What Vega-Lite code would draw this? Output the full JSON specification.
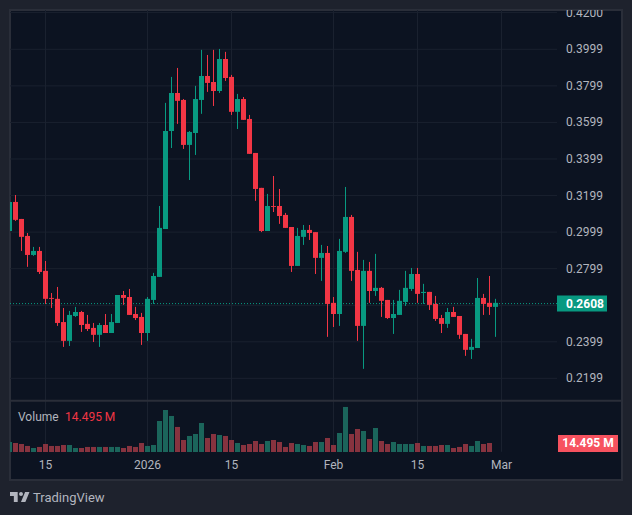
{
  "$schema": "https://vega.github.io/schema/vega-lite/v6.json",
  "description": "Daily candlestick chart with volume pane, dark TradingView style.",
  "width": 612,
  "height": 470,
  "autosize": {"type": "none"},
  "padding": {"left": 10, "top": 10, "right": 10, "bottom": 35},
  "background": "#1e222d",
  "view": {"fill": "#0c1321", "stroke": "#2a2e39", "strokeWidth": 2},
  "config": {
    "axis": {"disable": true},
    "text": {"font": "Roboto", "fontSize": 12, "color": "#b2b5be", "baseline": "middle"}
  },
  "datasets": {
    "candles": [
      {"date": "2025-12-09", "open": 0.3005, "high": 0.3164, "low": 0.3005, "close": 0.3164, "volume": 16.1, "dir": "up"},
      {"date": "2025-12-10", "open": 0.3164, "high": 0.3202, "low": 0.306, "close": 0.3066, "volume": 14.5, "dir": "down"},
      {"date": "2025-12-11", "open": 0.3071, "high": 0.3071, "low": 0.2896, "close": 0.2973, "volume": 12.9, "dir": "down"},
      {"date": "2025-12-12", "open": 0.2978, "high": 0.2994, "low": 0.2809, "close": 0.2874, "volume": 9.7, "dir": "down"},
      {"date": "2025-12-13", "open": 0.2874, "high": 0.2918, "low": 0.2869, "close": 0.2896, "volume": 6.4, "dir": "up"},
      {"date": "2025-12-14", "open": 0.2896, "high": 0.2918, "low": 0.277, "close": 0.2781, "volume": 8.1, "dir": "down"},
      {"date": "2025-12-15", "open": 0.2787, "high": 0.2841, "low": 0.2606, "close": 0.2634, "volume": 12.9, "dir": "down"},
      {"date": "2025-12-16", "open": 0.2639, "high": 0.2666, "low": 0.2584, "close": 0.2634, "volume": 9.7, "dir": "down"},
      {"date": "2025-12-17", "open": 0.2634, "high": 0.2699, "low": 0.2486, "close": 0.2502, "volume": 9.7, "dir": "down"},
      {"date": "2025-12-18", "open": 0.2507, "high": 0.2584, "low": 0.2371, "close": 0.2404, "volume": 11.3, "dir": "down"},
      {"date": "2025-12-19", "open": 0.2404, "high": 0.2568, "low": 0.2376, "close": 0.2546, "volume": 11.3, "dir": "up"},
      {"date": "2025-12-20", "open": 0.254, "high": 0.259, "low": 0.2535, "close": 0.2562, "volume": 6.4, "dir": "up"},
      {"date": "2025-12-21", "open": 0.2562, "high": 0.2568, "low": 0.2453, "close": 0.2491, "volume": 6.4, "dir": "down"},
      {"date": "2025-12-22", "open": 0.2497, "high": 0.2546, "low": 0.2458, "close": 0.2469, "volume": 8.1, "dir": "down"},
      {"date": "2025-12-23", "open": 0.2475, "high": 0.2502, "low": 0.2398, "close": 0.2437, "volume": 8.1, "dir": "down"},
      {"date": "2025-12-24", "open": 0.2437, "high": 0.2502, "low": 0.2371, "close": 0.2491, "volume": 8.1, "dir": "up"},
      {"date": "2025-12-25", "open": 0.2491, "high": 0.2551, "low": 0.2447, "close": 0.2447, "volume": 8.1, "dir": "down"},
      {"date": "2025-12-26", "open": 0.2447, "high": 0.2551, "low": 0.2447, "close": 0.2507, "volume": 8.1, "dir": "up"},
      {"date": "2025-12-27", "open": 0.2502, "high": 0.2655, "low": 0.2502, "close": 0.2655, "volume": 8.1, "dir": "up"},
      {"date": "2025-12-28", "open": 0.2655, "high": 0.2677, "low": 0.2601, "close": 0.2639, "volume": 6.4, "dir": "down"},
      {"date": "2025-12-29", "open": 0.2644, "high": 0.2688, "low": 0.2546, "close": 0.2546, "volume": 9.7, "dir": "down"},
      {"date": "2025-12-30", "open": 0.2551, "high": 0.259, "low": 0.2518, "close": 0.2529, "volume": 8.1, "dir": "down"},
      {"date": "2025-12-31", "open": 0.2535, "high": 0.2557, "low": 0.2382, "close": 0.2447, "volume": 14.5, "dir": "down"},
      {"date": "2026-01-01", "open": 0.2447, "high": 0.2644, "low": 0.2404, "close": 0.2634, "volume": 9.7, "dir": "up"},
      {"date": "2026-01-02", "open": 0.2628, "high": 0.2776, "low": 0.2606, "close": 0.2759, "volume": 11.3, "dir": "up"},
      {"date": "2026-01-03", "open": 0.2754, "high": 0.3142, "low": 0.2754, "close": 0.3022, "volume": 49.9, "dir": "up"},
      {"date": "2026-01-04", "open": 0.3016, "high": 0.3706, "low": 0.3016, "close": 0.3552, "volume": 67.6, "dir": "up"},
      {"date": "2026-01-05", "open": 0.3552, "high": 0.3848, "low": 0.3459, "close": 0.376, "volume": 58, "dir": "up"},
      {"date": "2026-01-06", "open": 0.376, "high": 0.3897, "low": 0.3591, "close": 0.3717, "volume": 40.3, "dir": "down"},
      {"date": "2026-01-07", "open": 0.3722, "high": 0.3727, "low": 0.3454, "close": 0.3476, "volume": 19.3, "dir": "down"},
      {"date": "2026-01-08", "open": 0.3476, "high": 0.3552, "low": 0.3284, "close": 0.3547, "volume": 25.8, "dir": "up"},
      {"date": "2026-01-09", "open": 0.3541, "high": 0.3799, "low": 0.3421, "close": 0.3727, "volume": 29, "dir": "up"},
      {"date": "2026-01-10", "open": 0.3722, "high": 0.3996, "low": 0.3646, "close": 0.3853, "volume": 46.7, "dir": "up"},
      {"date": "2026-01-11", "open": 0.3853, "high": 0.3968, "low": 0.3766, "close": 0.3815, "volume": 22.5, "dir": "down"},
      {"date": "2026-01-12", "open": 0.382, "high": 0.3996, "low": 0.3689, "close": 0.3771, "volume": 29, "dir": "down"},
      {"date": "2026-01-13", "open": 0.3771, "high": 0.4001, "low": 0.376, "close": 0.3946, "volume": 27.4, "dir": "up"},
      {"date": "2026-01-14", "open": 0.3946, "high": 0.3985, "low": 0.3826, "close": 0.3842, "volume": 25.8, "dir": "down"},
      {"date": "2026-01-15", "open": 0.3848, "high": 0.3859, "low": 0.364, "close": 0.3657, "volume": 19.3, "dir": "down"},
      {"date": "2026-01-16", "open": 0.3657, "high": 0.3755, "low": 0.3563, "close": 0.3727, "volume": 14.5, "dir": "up"},
      {"date": "2026-01-17", "open": 0.3727, "high": 0.3738, "low": 0.3613, "close": 0.3613, "volume": 11.3, "dir": "down"},
      {"date": "2026-01-18", "open": 0.3618, "high": 0.364, "low": 0.3427, "close": 0.3427, "volume": 12.9, "dir": "down"},
      {"date": "2026-01-19", "open": 0.3432, "high": 0.3432, "low": 0.317, "close": 0.3235, "volume": 17.7, "dir": "down"},
      {"date": "2026-01-20", "open": 0.3241, "high": 0.3241, "low": 0.2999, "close": 0.3005, "volume": 12.9, "dir": "down"},
      {"date": "2026-01-21", "open": 0.3005, "high": 0.3208, "low": 0.3005, "close": 0.3142, "volume": 17.7, "dir": "up"},
      {"date": "2026-01-22", "open": 0.3142, "high": 0.3306, "low": 0.3109, "close": 0.3137, "volume": 19.3, "dir": "down"},
      {"date": "2026-01-23", "open": 0.3142, "high": 0.3235, "low": 0.3044, "close": 0.3087, "volume": 16.1, "dir": "down"},
      {"date": "2026-01-24", "open": 0.3093, "high": 0.3104, "low": 0.3022, "close": 0.3022, "volume": 8.1, "dir": "down"},
      {"date": "2026-01-25", "open": 0.3027, "high": 0.3027, "low": 0.2781, "close": 0.2814, "volume": 14.5, "dir": "down"},
      {"date": "2026-01-26", "open": 0.2814, "high": 0.3022, "low": 0.2814, "close": 0.2978, "volume": 12.9, "dir": "up"},
      {"date": "2026-01-27", "open": 0.2973, "high": 0.3038, "low": 0.2929, "close": 0.3011, "volume": 11.3, "dir": "up"},
      {"date": "2026-01-28", "open": 0.3011, "high": 0.3038, "low": 0.2956, "close": 0.2994, "volume": 9.7, "dir": "down"},
      {"date": "2026-01-29", "open": 0.2999, "high": 0.2999, "low": 0.277, "close": 0.2858, "volume": 16.1, "dir": "down"},
      {"date": "2026-01-30", "open": 0.2858, "high": 0.2929, "low": 0.2732, "close": 0.2885, "volume": 16.1, "dir": "up"},
      {"date": "2026-01-31", "open": 0.2885, "high": 0.2923, "low": 0.2426, "close": 0.2606, "volume": 22.5, "dir": "down"},
      {"date": "2026-02-01", "open": 0.2612, "high": 0.2644, "low": 0.248, "close": 0.2551, "volume": 11.3, "dir": "down"},
      {"date": "2026-02-02", "open": 0.2551, "high": 0.2962, "low": 0.2486, "close": 0.2896, "volume": 30.6, "dir": "up"},
      {"date": "2026-02-03", "open": 0.2891, "high": 0.3246, "low": 0.2885, "close": 0.3082, "volume": 72.5, "dir": "up"},
      {"date": "2026-02-04", "open": 0.3082, "high": 0.3093, "low": 0.2732, "close": 0.2787, "volume": 29, "dir": "down"},
      {"date": "2026-02-05", "open": 0.2792, "high": 0.2891, "low": 0.2404, "close": 0.2486, "volume": 37, "dir": "down"},
      {"date": "2026-02-06", "open": 0.2486, "high": 0.2847, "low": 0.2251, "close": 0.2787, "volume": 33.8, "dir": "up"},
      {"date": "2026-02-07", "open": 0.2787, "high": 0.2836, "low": 0.2612, "close": 0.2677, "volume": 20.9, "dir": "down"},
      {"date": "2026-02-08", "open": 0.2677, "high": 0.288, "low": 0.265, "close": 0.2694, "volume": 38.6, "dir": "up"},
      {"date": "2026-02-09", "open": 0.2694, "high": 0.2699, "low": 0.2535, "close": 0.2623, "volume": 17.7, "dir": "down"},
      {"date": "2026-02-10", "open": 0.2628, "high": 0.2628, "low": 0.2524, "close": 0.2529, "volume": 12.9, "dir": "down"},
      {"date": "2026-02-11", "open": 0.2529, "high": 0.2628, "low": 0.2442, "close": 0.2551, "volume": 16.1, "dir": "up"},
      {"date": "2026-02-12", "open": 0.2546, "high": 0.2683, "low": 0.2546, "close": 0.2623, "volume": 12.9, "dir": "up"},
      {"date": "2026-02-13", "open": 0.2617, "high": 0.2787, "low": 0.2595, "close": 0.2694, "volume": 12.9, "dir": "up"},
      {"date": "2026-02-14", "open": 0.2688, "high": 0.2803, "low": 0.2677, "close": 0.277, "volume": 12.9, "dir": "up"},
      {"date": "2026-02-15", "open": 0.277, "high": 0.2803, "low": 0.2612, "close": 0.2661, "volume": 14.5, "dir": "down"},
      {"date": "2026-02-16", "open": 0.2666, "high": 0.2716, "low": 0.2606, "close": 0.2672, "volume": 9.7, "dir": "up"},
      {"date": "2026-02-17", "open": 0.2672, "high": 0.2672, "low": 0.2573, "close": 0.2601, "volume": 9.7, "dir": "down"},
      {"date": "2026-02-18", "open": 0.2606, "high": 0.265, "low": 0.2513, "close": 0.2524, "volume": 9.7, "dir": "down"},
      {"date": "2026-02-19", "open": 0.2529, "high": 0.2546, "low": 0.2447, "close": 0.2497, "volume": 11.3, "dir": "down"},
      {"date": "2026-02-20", "open": 0.2497, "high": 0.2584, "low": 0.2475, "close": 0.2562, "volume": 11.3, "dir": "up"},
      {"date": "2026-02-21", "open": 0.2562, "high": 0.259, "low": 0.2535, "close": 0.2535, "volume": 6.4, "dir": "down"},
      {"date": "2026-02-22", "open": 0.254, "high": 0.254, "low": 0.2415, "close": 0.2437, "volume": 8.1, "dir": "down"},
      {"date": "2026-02-23", "open": 0.2442, "high": 0.2442, "low": 0.2322, "close": 0.2355, "volume": 12.9, "dir": "down"},
      {"date": "2026-02-24", "open": 0.2355, "high": 0.2415, "low": 0.2305, "close": 0.2371, "volume": 9.7, "dir": "up"},
      {"date": "2026-02-25", "open": 0.2365, "high": 0.2748, "low": 0.2365, "close": 0.2639, "volume": 17.7, "dir": "up"},
      {"date": "2026-02-26", "open": 0.2639, "high": 0.2661, "low": 0.2546, "close": 0.2606, "volume": 12.9, "dir": "down"},
      {"date": "2026-02-27", "open": 0.2612, "high": 0.2759, "low": 0.2546, "close": 0.259, "volume": 14.495, "dir": "down"},
      {"date": "2026-02-28", "open": 0.259, "high": 0.2634, "low": 0.2426, "close": 0.2612, "dir": "up"}
    ],
    "priceTicks": [
      {"price": 0.42, "label": "0.4200"},
      {"price": 0.3999, "label": "0.3999"},
      {"price": 0.3799, "label": "0.3799"},
      {"price": 0.3599, "label": "0.3599"},
      {"price": 0.3399, "label": "0.3399"},
      {"price": 0.3199, "label": "0.3199"},
      {"price": 0.2999, "label": "0.2999"},
      {"price": 0.2799, "label": "0.2799"},
      {"price": 0.2399, "label": "0.2399"},
      {"price": 0.2199, "label": "0.2199"}
    ],
    "priceGrid": [
      {"price": 0.42}, {"price": 0.3999}, {"price": 0.3799}, {"price": 0.3599}, {"price": 0.3399}, {"price": 0.3199},
      {"price": 0.2999}, {"price": 0.2799}, {"price": 0.2599}, {"price": 0.2399}, {"price": 0.2199}
    ],
    "timeTicks": [
      {"date": "2025-12-15", "label": "15"},
      {"date": "2026-01-01", "label": "2026"},
      {"date": "2026-01-15", "label": "15"},
      {"date": "2026-02-01", "label": "Feb"},
      {"date": "2026-02-15", "label": "15"},
      {"date": "2026-03-01", "label": "Mar"}
    ],
    "one": [{}]
  },
  "resolve": {"scale": {"y": "independent", "color": "independent"}},
  "layer": [
    {
      "layer": [
        {
          "data": {"name": "priceGrid"},
          "mark": {"type": "rule", "color": "#1a212f", "strokeWidth": 1},
          "encoding": {
            "x": {"datum": {"year": 2025, "month": 12, "date": 9, "hours": 2, "utc": true}, "type": "temporal", "scale": {"type": "utc", "nice": false, "padding": 0, "domain": [{"year": 2025, "month": 12, "date": 9, "hours": 2, "utc": true}, {"year": 2026, "month": 3, "date": 21, "hours": 2, "utc": true}]}},
            "x2": {"datum": {"year": 2026, "month": 3, "date": 10, "hours": 6, "utc": true}},
            "y": {"field": "price", "type": "quantitative", "scale": {"nice": false, "zero": false, "domain": [0.1643, 0.4214]}}
          }
        },
        {
          "data": {"name": "timeTicks"},
          "mark": {"type": "rule", "color": "#1a212f", "strokeWidth": 1},
          "encoding": {
            "x": {"field": "date", "type": "temporal"},
            "y": {"datum": 0.4214},
            "y2": {"datum": 0.1797}
          }
        },
        {
          "data": {"name": "one"},
          "mark": {"type": "rule", "color": "#2a2e39", "strokeWidth": 2},
          "encoding": {
            "x": {"datum": {"year": 2025, "month": 12, "date": 9, "hours": 2, "utc": true}, "type": "temporal"},
            "x2": {"datum": {"year": 2026, "month": 3, "date": 21, "hours": 2, "utc": true}},
            "y": {"datum": 0.2076}
          }
        },
        {
          "data": {"name": "one"},
          "mark": {"type": "rule", "color": "#089981", "strokeWidth": 1, "strokeDash": [1, 2]},
          "encoding": {
            "x": {"datum": {"year": 2025, "month": 12, "date": 9, "hours": 2, "utc": true}, "type": "temporal"},
            "x2": {"datum": {"year": 2026, "month": 3, "date": 10, "hours": 6, "utc": true}},
            "y": {"datum": 0.2608}
          }
        }
      ]
    },
    {
      "data": {"name": "candles"},
      "mark": {"type": "bar", "width": 5, "clip": true},
      "encoding": {
        "x": {"field": "date", "type": "temporal"},
        "y": {"field": "volume", "type": "quantitative", "scale": {"nice": false, "domain": [-45.1, 711.6]}},
        "color": {"field": "dir", "type": "nominal", "legend": null, "scale": {"domain": ["up", "down"], "range": ["#1b655b", "#87333f"]}}
      }
    },
    {
      "layer": [
        {
          "data": {"name": "candles"},
          "mark": {"type": "rule", "strokeWidth": 1, "clip": true},
          "encoding": {
            "x": {"field": "date", "type": "temporal"},
            "y": {"field": "low", "type": "quantitative", "scale": {"nice": false, "zero": false, "domain": [0.1643, 0.4214]}},
            "y2": {"field": "high"},
            "color": {"field": "dir", "type": "nominal", "legend": null, "scale": {"domain": ["up", "down"], "range": ["#089981", "#f23645"]}}
          }
        },
        {
          "data": {"name": "candles"},
          "mark": {"type": "bar", "width": 5, "clip": true},
          "encoding": {
            "x": {"field": "date", "type": "temporal"},
            "y": {"field": "open", "type": "quantitative"},
            "y2": {"field": "close"},
            "color": {"field": "dir", "type": "nominal"}
          }
        },
        {
          "data": {"name": "priceTicks"},
          "mark": {"type": "text", "align": "left", "clip": true},
          "encoding": {
            "x": {"datum": {"year": 2026, "month": 3, "date": 11, "hours": 18, "utc": true}, "type": "temporal"},
            "y": {"field": "price", "type": "quantitative"},
            "text": {"field": "label"}
          }
        },
        {
          "data": {"name": "timeTicks"},
          "mark": {"type": "text", "align": "center"},
          "encoding": {
            "x": {"field": "date", "type": "temporal"},
            "y": {"datum": 0.1725},
            "text": {"field": "label"}
          }
        },
        {
          "data": {"name": "one"},
          "mark": {"type": "rule", "color": "#089981", "strokeWidth": 16},
          "encoding": {
            "x": {"datum": {"year": 2026, "month": 3, "date": 10, "hours": 6, "utc": true}, "type": "temporal"},
            "x2": {"datum": {"year": 2026, "month": 3, "date": 18, "hours": 14, "utc": true}},
            "y": {"datum": 0.2608}
          }
        },
        {
          "data": {"name": "one"},
          "mark": {"type": "text", "align": "left", "color": "#ffffff", "fontWeight": "bold"},
          "encoding": {
            "x": {"datum": {"year": 2026, "month": 3, "date": 11, "hours": 18, "utc": true}, "type": "temporal"},
            "y": {"datum": 0.2608},
            "text": {"value": "0.2608"}
          }
        },
        {
          "data": {"name": "one"},
          "mark": {"type": "rule", "color": "#f7525f", "strokeWidth": 17},
          "encoding": {
            "x": {"datum": {"year": 2026, "month": 3, "date": 10, "hours": 10, "utc": true}, "type": "temporal"},
            "x2": {"datum": {"year": 2026, "month": 3, "date": 20, "hours": 10, "utc": true}},
            "y": {"datum": 0.1843}
          }
        },
        {
          "data": {"name": "one"},
          "mark": {"type": "text", "align": "center", "color": "#ffffff", "fontWeight": "bold"},
          "encoding": {
            "x": {"datum": {"year": 2026, "month": 3, "date": 15, "hours": 10, "utc": true}, "type": "temporal"},
            "y": {"datum": 0.1843},
            "text": {"value": "14.495 M"}
          }
        },
        {
          "data": {"name": "one"},
          "mark": {"type": "text", "align": "left"},
          "encoding": {
            "x": {"datum": {"year": 2025, "month": 12, "date": 10, "hours": 10, "utc": true}, "type": "temporal"},
            "y": {"datum": 0.1988},
            "text": {"value": "Volume"}
          }
        },
        {
          "data": {"name": "one"},
          "mark": {"type": "text", "align": "left", "color": "#f23645"},
          "encoding": {
            "x": {"datum": {"year": 2025, "month": 12, "date": 18, "hours": 6, "utc": true}, "type": "temporal"},
            "y": {"datum": 0.1988},
            "text": {"value": "14.495 M"}
          }
        },
        {
          "data": {"name": "one"},
          "mark": {"type": "point", "filled": true, "opacity": 1, "color": "#b2b5be", "size": 380, "shape": "M-1 -.507H-.211V.507H-.606V-.113H-1ZM.127 .507L.549 -.507H1L.577 .507ZM-.07 -.31a.2 .2 0 1 0 .4 0a.2 .2 0 1 0 -.4 0Z"},
          "encoding": {
            "x": {"datum": {"year": 2025, "month": 12, "date": 10, "hours": 17, "utc": true}, "type": "temporal"},
            "y": {"datum": 0.155}
          }
        },
        {
          "data": {"name": "one"},
          "mark": {"type": "text", "align": "left", "fontSize": 13},
          "encoding": {
            "x": {"datum": {"year": 2025, "month": 12, "date": 12, "hours": 22, "utc": true}, "type": "temporal"},
            "y": {"datum": 0.1545},
            "text": {"value": "TradingView"}
          }
        }
      ]
    }
  ]
}
